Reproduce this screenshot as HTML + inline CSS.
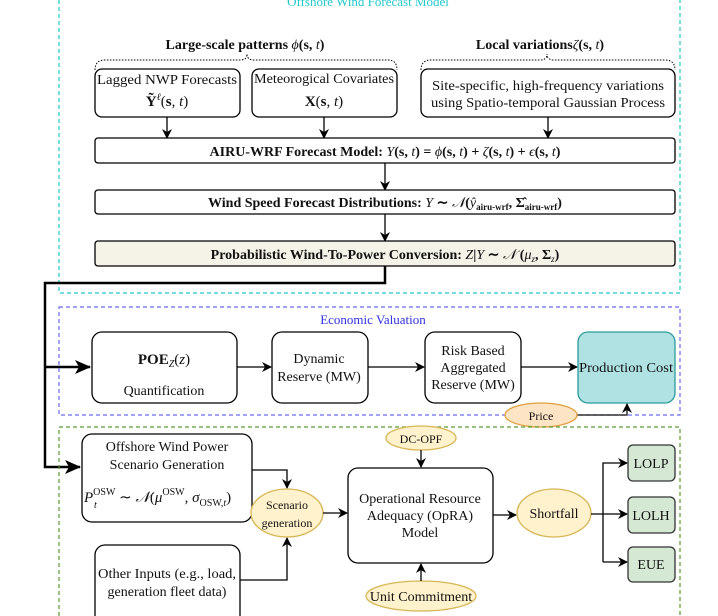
<!DOCTYPE html>
<html><head><meta charset="utf-8"><style>
body{margin:0;background:#fff}
svg{display:block}
text{font-family:"Liberation Serif",serif;fill:#111}
.b{font-weight:bold}
</style></head><body>
<svg width="718" height="616" viewBox="0 0 718 616" xmlns="http://www.w3.org/2000/svg">
<defs>
<marker id="a" markerWidth="10" markerHeight="10" refX="9" refY="5" orient="auto" markerUnits="userSpaceOnUse"><path d="M0,0 L10,5 L0,10 L3,5 Z" fill="#000"/></marker>
<marker id="A" markerWidth="16" markerHeight="14" refX="15" refY="7" orient="auto" markerUnits="userSpaceOnUse"><path d="M0,0 L16,7 L0,14 L4,7 Z" fill="#000"/></marker>
</defs>
<rect x="59" y="-10" width="621" height="303" fill="none" stroke="#22c8cc" stroke-width="1.2" stroke-dasharray="4,3"/>
<text x="368" y="6" font-size="13" text-anchor="middle" style="fill:#22c8cc">Offshore Wind Forecast Model</text>
<text x="245" y="49" font-size="14" text-anchor="middle" class="b">Large-scale patterns <tspan font-style="italic" font-weight="normal">ϕ</tspan>(<tspan>s</tspan>, <tspan font-style="italic" font-weight="normal">t</tspan>)</text>
<text x="540" y="49" font-size="14" text-anchor="middle" class="b">Local variations<tspan font-style="italic" font-weight="normal">ζ</tspan>(s, <tspan font-style="italic" font-weight="normal">t</tspan>)</text>
<path d="M95,70 Q95,60 105,60 L240,60 Q247,60 247,54 Q247,60 254,60 L388,60 Q397,60 397,70" fill="none" stroke="#000" stroke-dasharray="1.5,1.5"/>
<path d="M421,70 Q421,60 431,60 L540,60 Q547,60 547,54 Q547,60 554,60 L665,60 Q675,60 675,70" fill="none" stroke="#000" stroke-dasharray="1.5,1.5"/>
<rect x="95" y="69" width="145" height="48" rx="7" fill="#fff" stroke="#000" stroke-width="1.3"/>
<text x="167" y="84" font-size="14" text-anchor="middle" textLength="140" lengthAdjust="spacingAndGlyphs">Lagged NWP Forecasts</text>
<text x="167" y="106" font-size="15" text-anchor="middle"><tspan class="b">Ỹ</tspan><tspan font-style="italic" font-size="10" dy="-6">ℓ</tspan><tspan dy="6">(</tspan><tspan class="b">s</tspan>, <tspan font-style="italic">t</tspan>)</text>
<rect x="252" y="69" width="145" height="48" rx="7" fill="#fff" stroke="#000" stroke-width="1.3"/>
<text x="324" y="83" font-size="14" text-anchor="middle" textLength="140" lengthAdjust="spacingAndGlyphs">Meteorogical Covariates</text>
<text x="324" y="106" font-size="15" text-anchor="middle"><tspan class="b">X</tspan>(<tspan class="b">s</tspan>, <tspan font-style="italic">t</tspan>)</text>
<rect x="421" y="69" width="254" height="48" rx="7" fill="#fff" stroke="#000" stroke-width="1.3"/>
<text x="548" y="90" font-size="14" text-anchor="middle" textLength="232" lengthAdjust="spacingAndGlyphs">Site-specific, high-frequency variations</text>
<text x="548" y="107" font-size="14" text-anchor="middle" textLength="234" lengthAdjust="spacingAndGlyphs">using Spatio-temporal Gaussian Process</text>
<line x1="167" y1="117" x2="167" y2="138" stroke="#000" stroke-width="1.3" marker-end="url(#a)"/>
<line x1="324" y1="117" x2="324" y2="138" stroke="#000" stroke-width="1.3" marker-end="url(#a)"/>
<line x1="548" y1="117" x2="548" y2="138" stroke="#000" stroke-width="1.3" marker-end="url(#a)"/>
<rect x="95" y="138" width="580" height="25" rx="3" fill="#fff" stroke="#000" stroke-width="1.3"/>
<text x="385" y="156" font-size="14" text-anchor="middle" class="b">AIRU-WRF Forecast Model: <tspan font-style="italic" font-weight="normal">Y</tspan>(s, <tspan font-style="italic" font-weight="normal">t</tspan>) = <tspan font-style="italic" font-weight="normal">ϕ</tspan>(s, <tspan font-style="italic" font-weight="normal">t</tspan>) + <tspan font-style="italic" font-weight="normal">ζ</tspan>(s, <tspan font-style="italic" font-weight="normal">t</tspan>) + <tspan font-style="italic" font-weight="normal">ϵ</tspan>(s, <tspan font-style="italic" font-weight="normal">t</tspan>)</text>
<line x1="385" y1="163" x2="385" y2="190" stroke="#000" stroke-width="1.3" marker-end="url(#a)"/>
<rect x="95" y="190" width="580" height="24" rx="3" fill="#fff" stroke="#000" stroke-width="1.3"/>
<text x="385" y="207" font-size="14" text-anchor="middle" class="b">Wind Speed Forecast Distributions: <tspan font-style="italic" font-weight="normal">Y</tspan> ∼ <tspan font-style="italic" font-weight="normal">𝒩</tspan>(<tspan font-style="italic" font-weight="normal">ŷ</tspan><tspan font-size="9" dy="3">airu-wrf</tspan><tspan dy="-3">, Σ̂</tspan><tspan font-size="9" dy="3">airu-wrf</tspan><tspan dy="-3">)</tspan></text>
<line x1="385" y1="214" x2="385" y2="241" stroke="#000" stroke-width="1.3" marker-end="url(#a)"/>
<rect x="95" y="241" width="580" height="25" rx="3" fill="#f5f2e8" stroke="#000" stroke-width="1.3"/>
<text x="385" y="259" font-size="14" text-anchor="middle" class="b">Probabilistic Wind-To-Power Conversion: <tspan font-style="italic" font-weight="normal">Z</tspan>|<tspan font-style="italic" font-weight="normal">Y</tspan> ∼ <tspan font-style="italic" font-weight="normal">𝒩</tspan> (<tspan font-style="italic" font-weight="normal">μ</tspan><tspan font-size="9" dy="3" font-style="italic" font-weight="normal">z</tspan><tspan dy="-3">, Σ</tspan><tspan font-size="9" dy="3" font-style="italic" font-weight="normal">z</tspan><tspan dy="-3">)</tspan></text>
<path d="M385,266 L385,283 L45,283 L45,467 L80,467" fill="none" stroke="#000" stroke-width="2.5" marker-end="url(#A)"/>
<path d="M45,367 L90,367" fill="none" stroke="#000" stroke-width="2.5" marker-end="url(#A)"/>
<rect x="59" y="307" width="621" height="108" fill="none" stroke="#6a6af0" stroke-width="1.2" stroke-dasharray="4,3"/>
<text x="373" y="324" font-size="13" text-anchor="middle" style="fill:#3030e0">Economic Valuation</text>
<rect x="92" y="332" width="145" height="71" rx="10" fill="#fff" stroke="#000" stroke-width="1.3"/>
<text x="164" y="364" font-size="15" text-anchor="middle"><tspan class="b">POE</tspan><tspan font-size="10" dy="3" font-style="italic">Z</tspan><tspan dy="-3">(</tspan><tspan font-style="italic">z</tspan>)</text>
<text x="164" y="395" font-size="14" text-anchor="middle">Quantification</text>
<line x1="237" y1="367" x2="271" y2="367" stroke="#000" stroke-width="1.3" marker-end="url(#a)"/>
<rect x="272" y="332" width="96" height="71" rx="10" fill="#fff" stroke="#000" stroke-width="1.3"/>
<text x="319" y="363" font-size="14" text-anchor="middle">Dynamic</text>
<text x="319" y="381" font-size="14" text-anchor="middle">Reserve (MW)</text>
<line x1="368" y1="367" x2="424" y2="367" stroke="#000" stroke-width="1.3" marker-end="url(#a)"/>
<rect x="425" y="332" width="96" height="71" rx="10" fill="#fff" stroke="#000" stroke-width="1.3"/>
<text x="473" y="355" font-size="14" text-anchor="middle">Risk Based</text>
<text x="473" y="372" font-size="14" text-anchor="middle">Aggregated</text>
<text x="473" y="389" font-size="14" text-anchor="middle">Reserve (MW)</text>
<line x1="521" y1="367" x2="577" y2="367" stroke="#000" stroke-width="1.3" marker-end="url(#a)"/>
<rect x="578" y="332" width="97" height="71" rx="10" fill="#b0e2e4" stroke="#2a9a9a" stroke-width="1.3"/>
<text x="626" y="372" font-size="14" text-anchor="middle" textLength="94" lengthAdjust="spacingAndGlyphs">Production Cost</text>
<path d="M577,415 L627,415 L627,404" fill="none" stroke="#333" stroke-width="1.5" marker-end="url(#a)"/>
<ellipse cx="541" cy="415" rx="36" ry="12" fill="#fde4c4" stroke="#e0a040" stroke-width="1.3"/>
<text x="541" y="420" font-size="12" text-anchor="middle">Price</text>
<path d="M59,616 L59,427 L680,427 L680,616" fill="none" stroke="#5a9a30" stroke-width="1.2" stroke-dasharray="4,3"/>
<rect x="82" y="434" width="170" height="88" rx="10" fill="#fff" stroke="#000" stroke-width="1.3"/>
<text x="167" y="451" font-size="14" text-anchor="middle">Offshore Wind Power</text>
<text x="167" y="469" font-size="14" text-anchor="middle">Scenario Generation</text>
<text x="84" y="502" font-size="15"><tspan font-style="italic">P</tspan><tspan font-size="10" dy="-7">OSW</tspan><tspan dy="7"> ∼ </tspan><tspan font-style="italic">𝒩</tspan>(<tspan font-style="italic">μ</tspan><tspan font-size="10" dy="-7">OSW</tspan><tspan dy="7">, </tspan><tspan font-style="italic">σ</tspan><tspan font-size="10" dy="4">OSW,<tspan font-style="italic">t</tspan></tspan><tspan dy="-4">)</tspan></text>
<text x="94" y="508" font-size="10" font-style="italic">t</text>
<path d="M252,470 L287,470 L287,488" fill="none" stroke="#000" stroke-width="1.3" marker-end="url(#a)"/>
<rect x="95" y="545" width="145" height="80" rx="10" fill="#fff" stroke="#000" stroke-width="1.3"/>
<text x="167" y="578" font-size="14" text-anchor="middle" textLength="138" lengthAdjust="spacingAndGlyphs">Other Inputs (e.g., load,</text>
<text x="167" y="596" font-size="14" text-anchor="middle">generation fleet data)</text>
<path d="M240,580 L287,580 L287,538" fill="none" stroke="#000" stroke-width="1.3" marker-end="url(#a)"/>
<ellipse cx="287" cy="513" rx="36" ry="24" fill="#fff2cc" stroke="#d6b656" stroke-width="1.3"/>
<text x="287" y="509" font-size="12" text-anchor="middle">Scenario</text>
<text x="287" y="527" font-size="12" text-anchor="middle">generation</text>
<line x1="323" y1="513" x2="347" y2="513" stroke="#000" stroke-width="1.3" marker-end="url(#a)"/>
<rect x="348" y="468" width="145" height="95" rx="10" fill="#fff" stroke="#000" stroke-width="1.3"/>
<text x="420" y="503" font-size="14" text-anchor="middle">Operational Resource</text>
<text x="420" y="520" font-size="14" text-anchor="middle">Adequacy (OpRA)</text>
<text x="420" y="537" font-size="14" text-anchor="middle">Model</text>
<ellipse cx="421" cy="438" rx="35" ry="12" fill="#fff2cc" stroke="#d6b656" stroke-width="1.3"/>
<text x="421" y="443" font-size="12" text-anchor="middle">DC-OPF</text>
<line x1="421" y1="450" x2="421" y2="467" stroke="#000" stroke-width="1.3" marker-end="url(#a)"/>
<ellipse cx="421" cy="596" rx="55" ry="15" fill="#fff2cc" stroke="#d6b656" stroke-width="1.3"/>
<text x="421" y="601" font-size="14" text-anchor="middle">Unit Commitment</text>
<line x1="421" y1="581" x2="421" y2="564" stroke="#000" stroke-width="1.3" marker-end="url(#a)"/>
<line x1="493" y1="515" x2="516" y2="515" stroke="#000" stroke-width="1.3" marker-end="url(#a)"/>
<ellipse cx="554" cy="513" rx="37" ry="24" fill="#fff2cc" stroke="#d6b656" stroke-width="1.3"/>
<text x="554" y="518" font-size="14" text-anchor="middle">Shortfall</text>
<path d="M591,514 L627,514" fill="none" stroke="#000" stroke-width="1.3" marker-end="url(#a)"/>
<path d="M603,562 L603,463 L627,463" fill="none" stroke="#000" stroke-width="1.3" marker-end="url(#a)"/>
<path d="M603,562 L627,562" fill="none" stroke="#000" stroke-width="1.3" marker-end="url(#a)"/>
<rect x="628" y="445" width="47" height="36" rx="5" fill="#d5e8d4" stroke="#333" stroke-width="1.3"/>
<text x="651" y="468" font-size="14" text-anchor="middle">LOLP</text>
<rect x="628" y="497" width="47" height="36" rx="5" fill="#d5e8d4" stroke="#333" stroke-width="1.3"/>
<text x="651" y="520" font-size="14" text-anchor="middle">LOLH</text>
<rect x="628" y="547" width="47" height="35" rx="5" fill="#d5e8d4" stroke="#333" stroke-width="1.3"/>
<text x="651" y="569" font-size="14" text-anchor="middle">EUE</text>
</svg>
</body></html>
